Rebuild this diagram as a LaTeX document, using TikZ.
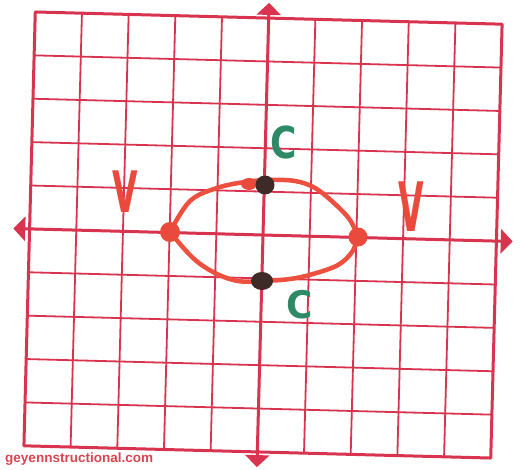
\documentclass[tikz,border=0pt]{standalone}
\usepackage{fontspec}
\usepackage{graphicx}
\usetikzlibrary{arrows.meta}
\definecolor{gridred}{HTML}{D8344F}
\definecolor{curvered}{HTML}{EE5040}
\definecolor{dotred}{HTML}{EA4A3C}
\definecolor{dotdark}{HTML}{3E2B27}
\definecolor{labgreen}{HTML}{2E8A66}
\definecolor{wmred}{HTML}{D84550}
\newfontfamily\wmfont{Liberation Sans}
\newfontfamily\labfont{DejaVu Sans}
\begin{document}
\begin{tikzpicture}[x=1pt,y=-1pt,
  gridline/.style={gridred,line width=1.8pt},
  borderline/.style={gridred,line width=3pt,line join=round},
  axisline/.style={gridred,line width=3pt,{Triangle[length=12pt,width=24pt]}-{Triangle[length=12pt,width=24pt]}},
  curve/.style={curvered,line width=4.5pt,line cap=round,line join=round},
  vlabel/.style={text=dotred,font=\fontsize{44}{44}\labfont\bfseries,inner sep=0pt},
  clabel/.style={text=labgreen,font=\fontsize{40}{40}\labfont\bfseries,inner sep=0pt},
  wmark/.style={text=wmred,inner sep=0pt}]
\useasboundingbox (0,0) rectangle (521,470);
\fill[white] (0,0) rectangle (521,470);
\begin{scope}[shift={(263,235)},rotate=-1.5,x=46.7pt,y=43.4pt]
  \foreach \i in {-4,...,4} {
    \draw[gridline] (\i,-5) -- (\i,5);
    \draw[gridline] (-5,\i) -- (5,\i);
  }
  \draw[borderline] (-5,-5) rectangle (5,5);
  \coordinate (xl) at (-5.35,0);
  \coordinate (xr) at (5.35,0);
  \coordinate (yb) at (0,-5.35);
  \coordinate (yt) at (0,5.35);
  \draw[axisline] (xl) -- (xr);
  \draw[axisline] (yb) -- (yt);
\end{scope}
% ellipse
\draw[curve] plot[smooth,tension=0.6] coordinates {(170,232) (190,201) (217,188) (245,182) (270,180) (295,181) (315,188) (335,204) (350,220) (358,237)};
\draw[curve] plot[smooth,tension=0.6] coordinates {(358,237) (352,252) (338,265) (313,274) (290,279) (262,281) (238,281) (215,273) (193,258) (170,232)};
% points
\fill[dotred] (170,232) circle (10pt);
\fill[dotred] (358,237) circle (9.5pt);
\fill[dotred] (249,184) ellipse (8pt and 6pt);
\fill[dotdark] (265,185) circle (9.5pt);
\fill[dotdark] (262,281) ellipse (11pt and 9pt);
% labels
\node[vlabel] (v1) at (125,192) {\scalebox{0.75}[1.3]{V}};
\node[vlabel] (v2) at (411,207) {\scalebox{0.75}[1.55]{V}};
\node[clabel] (c1) at (284,142) {\scalebox{0.9}[1.1]{C}};
\node[clabel] (c2) at (300,305) {\scalebox{0.9}[0.95]{C}};
\node[wmark,anchor=west] (wm) at (5,459) {\resizebox{148pt}{!}{\wmfont\bfseries geyennstructional.com}};
\end{tikzpicture}
\end{document}
